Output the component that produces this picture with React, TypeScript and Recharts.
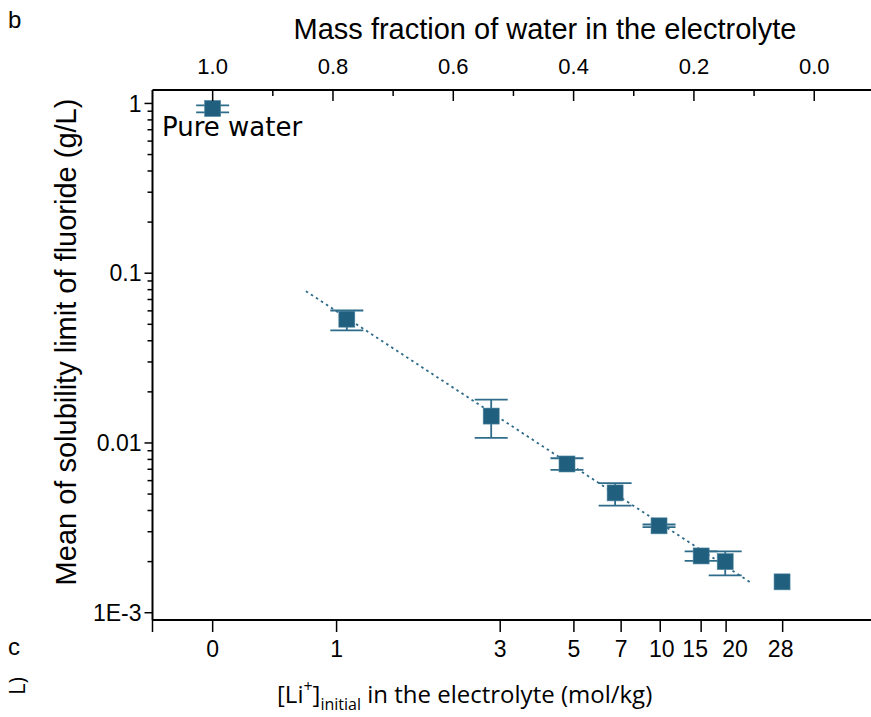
import React from 'react';
import { ComposedChart, Scatter, Line, XAxis, YAxis, ErrorBar } from 'recharts';

// Bottom axis: [Li+] molality labels and the water mass fraction where each sits
const molalityLabels = ['0', '1', '3', '5', '7', '10', '15', '20', '28'];
const molalityTickW = [1.0, 0.794, 0.522, 0.3995, 0.321, 0.256, 0.188, 0.1465, 0.0525];
const bottomEdgeTick = [1.1];

// Top axis: mass fraction of water (major + minor ticks)
const waterFractionTicks = [1.0, 0.9, 0.8, 0.7, 0.6, 0.5, 0.4, 0.3, 0.2, 0.1, 0.0];
const waterFractionMajor = [1.0, 0.8, 0.6, 0.4, 0.2, 0.0];

// Y axis (log) ticks
const yMajorTicks = [1, 0.1, 0.01, 0.001];
const yTickLabels = ['1', '0.1', '0.01', '1E-3'];
const yMinorTicks = [
  0.9, 0.8, 0.7, 0.6, 0.5, 0.4, 0.3, 0.2,
  0.09, 0.08, 0.07, 0.06, 0.05, 0.04, 0.03, 0.02,
  0.009, 0.008, 0.007, 0.006, 0.005, 0.004, 0.003, 0.002,
];

// Measured points
const pointW = [1.0, 0.777, 0.537, 0.411, 0.331, 0.258, 0.188, 0.148];
const pointY = [0.934, 0.0536, 0.0144, 0.00752, 0.00508, 0.00325, 0.00216, 0.0020];
const errLow = [0.049, 0.0076, 0.0037, 0.00058, 0.0008, 0.00006, 0.00014, 0.00034];
const errHigh = [0.039, 0.0067, 0.0036, 0.00061, 0.00072, 0.00006, 0.00014, 0.0003];

// Point without error bar (28 mol/kg)
const lastW = [0.0535];
const lastY = [0.00152];

// Fit line end points
const fitW = [0.845, 0.105];
const fitY = [0.0784, 0.0015];

const pts = pointW.map((w, i) => ({ w, y: pointY[i], err: [errLow[i], errHigh[i]] }));
const lastPts = lastW.map((w, i) => ({ w, y: lastY[i] }));
const fitData = fitW.map((w, i) => ({ w, y: fitY[i] }));

const MARK = '#215f7e';
const ERR = '#2f6c8a';
const TICK_FONT = '"Liberation Sans", Arial, sans-serif';
// small label nudges (styling only) so crowded bottom labels don't collide
const LABEL_NUDGE: Record<string, number> = { '10': 1.5, '15': -6, '20': 9, '28': -2 };

const isMajorY = (v: number) => yMajorTicks.findIndex((t) => Math.abs(Math.log10(t) - Math.log10(v)) < 1e-6);

const YTick = (props: any) => {
  const { x, y, payload } = props;
  const idx = isMajorY(payload.value);
  const major = idx >= 0;
  const len = major ? 8 : 5;
  return (
    <g>
      <line x1={x - len} x2={x} y1={y} y2={y} stroke="#000" strokeWidth={1.5} />
      {major && (
        <text x={x - len - 3} y={y} dy="0.36em" textAnchor="end" fontSize={23} fontFamily={TICK_FONT} fill="#000">
          {yTickLabels[idx]}
        </text>
      )}
    </g>
  );
};

const TopTick = (props: any) => {
  const { x, y, payload } = props;
  const v = payload.value;
  const major = waterFractionMajor.some((m) => Math.abs(m - v) < 1e-6);
  return (
    <g>
      <line x1={x} x2={x} y1={y} y2={y + (major ? 11 : 6)} stroke="#000" strokeWidth={1.5} />
      {major && (
        <text x={x} y={y - 16} textAnchor="middle" fontSize={22} fontFamily={TICK_FONT} fill="#000">
          {v.toFixed(1)}
        </text>
      )}
    </g>
  );
};

const BottomTick = (props: any) => {
  const { x, y, payload } = props;
  const idx = molalityTickW.findIndex((t) => Math.abs(t - payload.value) < 1e-9);
  const label = idx >= 0 ? molalityLabels[idx] : '';
  const nudge = LABEL_NUDGE[label] || 0;
  return (
    <g>
      <line x1={x} x2={x} y1={y} y2={y + 12} stroke="#000" strokeWidth={1.5} />
      {label && (
        <text x={x + nudge} y={y + 37} textAnchor="middle" fontSize={23} fontFamily={TICK_FONT} fill="#000">
          {label}
        </text>
      )}
    </g>
  );
};

const Square = (props: any) => {
  const { cx, cy } = props;
  if (cx == null || cy == null) return null;
  return <rect x={cx - 8} y={cy - 8} width={16} height={16} fill={MARK} stroke="#4f86a0" strokeWidth={0.6} />;
};

export default function App() {
  return (
    <div style={{ position: 'fixed', left: 0, top: 0, width: 871, height: 717, overflow: 'hidden', background: '#fff' }}>
      <ComposedChart width={885} height={717} margin={{ top: 0, right: 10.6, bottom: 0, left: 0 }}>
        <XAxis
          xAxisId="bottom"
          dataKey="w"
          type="number"
          scale="linear"
          domain={[-0.1, 1.1]}
          reversed
          allowDataOverflow
          orientation="bottom"
          height={97}
          ticks={[...bottomEdgeTick, ...molalityTickW]}
          interval={0}
          tickLine={false}
          tickSize={0}
          tickMargin={0}
          tick={<BottomTick />}
          axisLine={{ stroke: '#000', strokeWidth: 2 }}
        />
        <XAxis
          xAxisId="top"
          dataKey="w"
          type="number"
          scale="linear"
          domain={[-0.1, 1.1]}
          reversed
          allowDataOverflow
          orientation="top"
          height={90}
          ticks={waterFractionTicks}
          interval={0}
          tickLine={false}
          tickSize={0}
          tickMargin={0}
          tick={<TopTick />}
          axisLine={{ stroke: '#000', strokeWidth: 2 }}
        />
        <YAxis
          dataKey="y"
          type="number"
          scale="log"
          domain={[0.000906, 1.2]}
          allowDataOverflow
          width={152.5}
          ticks={[...yMajorTicks, ...yMinorTicks]}
          interval={0}
          tickLine={false}
          tickSize={0}
          tickMargin={0}
          tick={<YTick />}
          axisLine={{ stroke: '#000', strokeWidth: 2 }}
        />
        <Line
          xAxisId="top"
          data={fitData}
          dataKey="y"
          type="linear"
          stroke="#2c6a88"
          strokeWidth={1.8}
          strokeDasharray="2.5 3.5"
          dot={false}
          activeDot={false}
          isAnimationActive={false}
        />
        <Scatter xAxisId="bottom" data={pts} dataKey="y" shape={<Square />} isAnimationActive={false}>
          <ErrorBar dataKey="err" direction="y" width={16.5} stroke={ERR} strokeWidth={1.8} />
        </Scatter>
        <Scatter xAxisId="bottom" data={lastPts} dataKey="y" shape={<Square />} isAnimationActive={false} />
      </ComposedChart>
      <svg width={871} height={717} style={{ position: 'absolute', left: 0, top: 0, pointerEvents: 'none' }}>
        <text x={8} y={28} fontSize={24} fontFamily={TICK_FONT} fill="#000">b</text>
        <text x={545} y={39} textAnchor="middle" fontSize={29} fontFamily={TICK_FONT} fill="#000">
          Mass fraction of water in the electrolyte
        </text>
        <text
          transform="translate(76,342) rotate(-90)"
          textAnchor="middle"
          fontSize={29}
          fontFamily={TICK_FONT}
          fill="#000"
        >
          Mean of solubility limit of fluoride (g/L)
        </text>
        <text x={162} y={136} fontSize={26} fontFamily='"DejaVu Sans", sans-serif' fill="#000">Pure water</text>
        <text x={277} y={703} fontSize={24} fontFamily='"Open Sans", sans-serif' fill="#000">
          [Li<tspan fontSize={16} dy={-11}>+</tspan>
          <tspan dy={11}>]</tspan>
          <tspan fontSize={16} dy={7}>initial</tspan>
          <tspan dy={-7}> in the electrolyte (mol/kg)</tspan>
        </text>
        <text x={8} y={655} fontSize={24} fontFamily={TICK_FONT} fill="#000">c</text>
        <text transform="translate(25,677) rotate(-90)" textAnchor="end" fontSize={22} fontFamily='"Open Sans", sans-serif' fill="#000">
          L)
        </text>
      </svg>
    </div>
  );
}
